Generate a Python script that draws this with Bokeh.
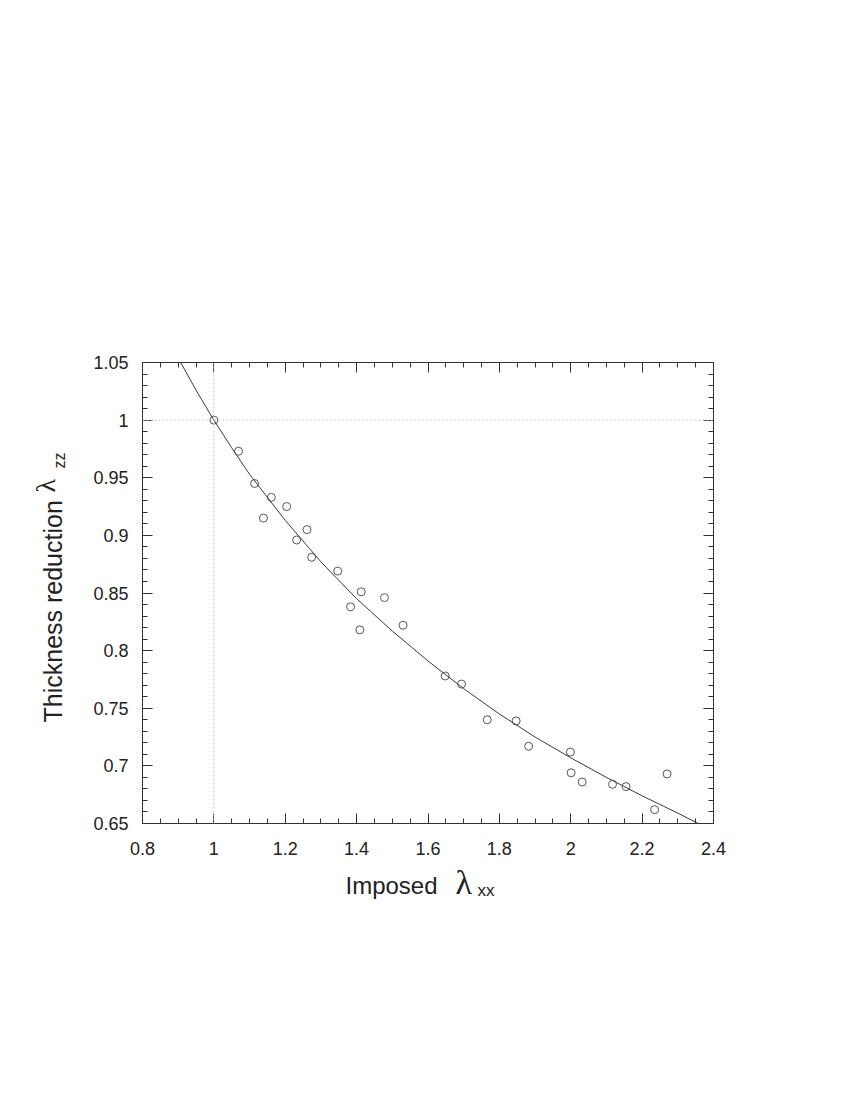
import math
from bokeh.plotting import figure
from bokeh.layouts import row, column
from bokeh.models import (LinearAxis, FixedTicker, CustomJSTickFormatter, Span, Range1d)
from bokeh.core.properties import value
from bokeh.embed import file_html
from bokeh.resources import INLINE

# ---- data ----
meas_x = [1.0, 1.069, 1.114, 1.139, 1.161, 1.204, 1.232, 1.261, 1.274, 1.347, 1.383, 1.409,
          1.413, 1.478, 1.530, 1.648, 1.694, 1.766, 1.847, 1.882, 1.999, 2.001, 2.032,
          2.117, 2.155, 2.235, 2.270]
meas_y = [1.0, 0.973, 0.945, 0.915, 0.933, 0.925, 0.896, 0.905, 0.881, 0.869, 0.838, 0.818,
          0.851, 0.846, 0.822, 0.778, 0.771, 0.740, 0.739, 0.717, 0.712, 0.694, 0.686,
          0.684, 0.682, 0.662, 0.693]

fit_x = [0.907, 0.95, 1.0, 1.05, 1.1, 1.2, 1.3, 1.4, 1.5, 1.6, 1.7, 1.8, 1.9, 2.0, 2.1,
         2.2, 2.3, 2.357]
fit_y = [1.050, 1.026, 1.000, 0.976, 0.953, 0.913, 0.877, 0.845, 0.817, 0.791, 0.767,
         0.745, 0.725, 0.707, 0.690, 0.674, 0.659, 0.650]

x_major = [0.8, 1.0, 1.2, 1.4, 1.6, 1.8, 2.0, 2.2, 2.4]
x_minor = [round(0.8 + 0.05 * i, 2) for i in range(33)]
y_major = [0.65, 0.7, 0.75, 0.8, 0.85, 0.9, 0.95, 1.0, 1.05]
y_minor = [round(0.65 + 0.01 * i, 2) for i in range(41)]

x_label = "Imposed"
y_label = "Thickness reduction"
lam = "\u03bb"
x_sub = "xx"
y_sub = "zz"

FONT = "Liberation Sans"
SERIF = "Liberation Serif"
DARK = "#333333"
TXT = "#222222"

# ---- layout sizes (pixels) ----
YLAB_W = 80
MAIN_W = 754
MAIN_H = 862
XLAB_H = 68

p = figure(width=MAIN_W, height=MAIN_H, x_range=(0.8, 2.4), y_range=(0.65, 1.05),
           output_backend="svg", toolbar_location=None,
           x_axis_type=None, y_axis_type=None,
           min_border_left=62, min_border_right=121,
           min_border_top=362, min_border_bottom=39)
p.grid.visible = False
p.outline_line_color = DARK
p.background_fill_color = "white"
p.border_fill_color = "white"

fmt = CustomJSTickFormatter(code="return String(Math.round(tick*100)/100);")
blank = CustomJSTickFormatter(code="return '';")

def style(ax, labelled):
    ax.axis_line_color = DARK
    ax.major_tick_line_color = DARK
    ax.minor_tick_line_color = DARK
    ax.major_tick_in = 10
    ax.major_tick_out = 0
    ax.minor_tick_in = 5
    ax.minor_tick_out = 0
    ax.major_label_text_font = FONT
    ax.major_label_text_font_size = "18px"
    ax.major_label_text_color = TXT
    ax.formatter = fmt if labelled else blank

xt = FixedTicker(ticks=x_major, minor_ticks=x_minor)
yt = FixedTicker(ticks=y_major, minor_ticks=y_minor)

bx = LinearAxis(ticker=xt); style(bx, True); bx.major_label_standoff = 18
tx = LinearAxis(ticker=xt); style(tx, False)
ly = LinearAxis(ticker=yt); style(ly, True); ly.major_label_standoff = 14
ry = LinearAxis(ticker=yt); style(ry, False)
p.add_layout(bx, "below")
p.add_layout(tx, "above")
p.add_layout(ly, "left")
p.add_layout(ry, "right")

# reference lines at 1
p.add_layout(Span(location=1.0, dimension="width", line_color="#c8c8c8",
                  line_dash="2 2", line_width=1))
p.add_layout(Span(location=1.0, dimension="height", line_color="#c8c8c8",
                  line_dash="2 2", line_width=1))

p.line(fit_x, fit_y, line_color="#3a3a3a", line_width=1)
p.scatter(meas_x, meas_y, marker="circle", size=8, fill_color=None,
          line_color="#444444", line_width=0.9)


def text_panel(w, h, xr):
    f = figure(width=w, height=h, x_range=xr, y_range=Range1d(0, h),
               output_backend="svg", toolbar_location=None,
               x_axis_type=None, y_axis_type=None, min_border=0)
    f.grid.visible = False
    f.outline_line_color = None
    f.background_fill_color = "white"
    f.border_fill_color = "white"
    return f


def put(f, x, y, text, font, size, angle=0.0):
    f.text(x=[x], y=[y], text=[text], text_font=value(font), text_font_size=value(size),
           text_color=TXT, angle=angle, text_align=value("left"),
           text_baseline=value("alphabetic"))


# x-axis title: "Imposed  λxx"  (panel frame lines up with the plot frame, 142..713 px)
xl = text_panel(MAIN_W, XLAB_H, Range1d(142, 713))
put(xl, 345, 45, x_label, FONT, "24px")
put(xl, 455, 48.5, lam, SERIF, "34px")
put(xl, 477, 40, x_sub, FONT, "17px")

# y-axis title: "Thickness reduction λzz" (rotated)
yl = text_panel(YLAB_W, MAIN_H, Range1d(0, YLAB_W))
put(yl, 52, MAIN_H - 722, y_label, FONT, "25px", math.pi / 2)
put(yl, 45, MAIN_H - 492, lam, SERIF, "28px", math.pi / 2)
put(yl, 59, MAIN_H - 468, y_sub, FONT, "16px", math.pi / 2)

layout = row(yl, column(p, xl, spacing=0), spacing=0)

open("out.html", "w").write(file_html(layout, INLINE))
